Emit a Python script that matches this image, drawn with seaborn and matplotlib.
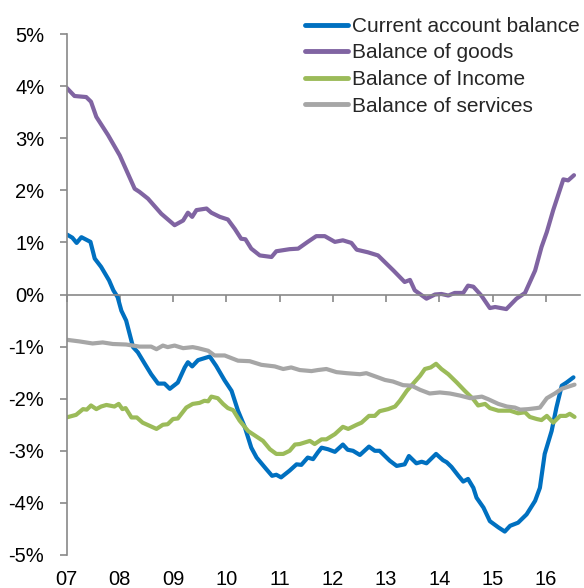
"""
plot.py -- balance of payments components, % of GDP, 2007-2016.
"""

import matplotlib
matplotlib.use("Agg")
import matplotlib.pyplot as plt
from matplotlib.ticker import FuncFormatter
import numpy as np
import pandas as pd
import seaborn as sns

# -- Data (x in fractional years) ----------------------------------------------

SERIES = ["Current account balance", "Balance of goods", "Balance of Income", "Balance of services"]
COLORS = ["#0070C0", "#8064A2", "#9BBB59", "#A6A6A6"]

current_t = [2007.01, 2007.11, 2007.19, 2007.28, 2007.45, 2007.53, 2007.65, 2007.80, 2007.88, 2007.96,
             2008.03, 2008.12, 2008.25, 2008.34, 2008.47, 2008.59, 2008.72, 2008.84, 2008.94, 2009.09,
             2009.22, 2009.28, 2009.36, 2009.47, 2009.69, 2009.81, 2009.97, 2010.10, 2010.22, 2010.35,
             2010.47, 2010.57, 2010.75, 2010.86, 2010.94, 2011.03, 2011.19, 2011.32, 2011.41, 2011.53,
             2011.63, 2011.72, 2011.79, 2011.91, 2012.04, 2012.19, 2012.28, 2012.38, 2012.51, 2012.68,
             2012.79, 2012.88, 2013.07, 2013.20, 2013.35, 2013.43, 2013.57, 2013.67, 2013.76, 2013.94,
             2014.07, 2014.14, 2014.23, 2014.36, 2014.45, 2014.54, 2014.64, 2014.70, 2014.83, 2014.95,
             2015.11, 2015.23, 2015.33, 2015.48, 2015.64, 2015.80, 2015.89, 2015.98, 2016.11, 2016.20,
             2016.30, 2016.39, 2016.52]
current_v = [1.15, 1.09, 0.99, 1.10, 1.01, 0.69, 0.53, 0.27, 0.08, -0.05,
             -0.31, -0.50, -1.01, -1.11, -1.33, -1.53, -1.71, -1.71, -1.81, -1.69,
             -1.40, -1.30, -1.38, -1.26, -1.19, -1.37, -1.65, -1.85, -2.23, -2.55,
             -2.94, -3.13, -3.35, -3.48, -3.46, -3.51, -3.38, -3.26, -3.27, -3.13,
             -3.16, -3.03, -2.94, -2.97, -3.02, -2.88, -2.98, -3.00, -3.08, -2.92,
             -3.00, -3.00, -3.19, -3.29, -3.26, -3.10, -3.24, -3.21, -3.24, -3.06,
             -3.18, -3.22, -3.31, -3.48, -3.59, -3.54, -3.71, -3.90, -4.09, -4.35,
             -4.47, -4.55, -4.44, -4.38, -4.22, -3.96, -3.71, -3.06, -2.62, -2.17,
             -1.75, -1.69, -1.59]

goods_t = [2007.00, 2007.15, 2007.37, 2007.46, 2007.56, 2007.78, 2008.00, 2008.28, 2008.37, 2008.53,
           2008.78, 2009.03, 2009.19, 2009.28, 2009.36, 2009.44, 2009.63, 2009.72, 2009.88, 2010.03,
           2010.16, 2010.28, 2010.36, 2010.47, 2010.63, 2010.85, 2010.94, 2011.19, 2011.35, 2011.53,
           2011.69, 2011.85, 2012.04, 2012.19, 2012.35, 2012.45, 2012.66, 2012.85, 2012.98, 2013.14,
           2013.35, 2013.45, 2013.54, 2013.76, 2013.92, 2014.04, 2014.17, 2014.29, 2014.45, 2014.54,
           2014.64, 2014.79, 2014.95, 2015.05, 2015.26, 2015.45, 2015.61, 2015.80, 2015.92, 2016.02,
           2016.14, 2016.33, 2016.42, 2016.53]
goods_v = [3.97, 3.81, 3.79, 3.70, 3.41, 3.06, 2.67, 2.03, 1.97, 1.84,
           1.55, 1.33, 1.42, 1.57, 1.49, 1.62, 1.65, 1.57, 1.49, 1.44,
           1.26, 1.07, 1.06, 0.88, 0.75, 0.72, 0.83, 0.87, 0.88, 1.01,
           1.12, 1.12, 1.01, 1.04, 0.99, 0.86, 0.81, 0.75, 0.62, 0.46,
           0.24, 0.28, 0.08, -0.08, 0.00, 0.01, -0.02, 0.03, 0.03, 0.17,
           0.15, -0.02, -0.26, -0.24, -0.28, -0.08, 0.03, 0.46, 0.91, 1.20,
           1.62, 2.21, 2.19, 2.29]

income_t = [2007.00, 2007.18, 2007.31, 2007.38, 2007.46, 2007.56, 2007.65, 2007.75, 2007.90, 2007.98,
            2008.05, 2008.11, 2008.22, 2008.32, 2008.43, 2008.56, 2008.69, 2008.81, 2008.90, 2009.00,
            2009.09, 2009.25, 2009.37, 2009.50, 2009.59, 2009.66, 2009.72, 2009.84, 2009.94, 2010.03,
            2010.13, 2010.25, 2010.41, 2010.69, 2010.82, 2010.94, 2011.07, 2011.19, 2011.29, 2011.38,
            2011.57, 2011.66, 2011.79, 2011.88, 2012.04, 2012.19, 2012.29, 2012.45, 2012.54, 2012.68,
            2012.79, 2012.88, 2013.04, 2013.17, 2013.26, 2013.39, 2013.51, 2013.64, 2013.73, 2013.84,
            2013.94, 2014.04, 2014.17, 2014.33, 2014.48, 2014.64, 2014.73, 2014.86, 2014.95, 2015.11,
            2015.33, 2015.48, 2015.61, 2015.70, 2015.83, 2015.92, 2016.02, 2016.14, 2016.27, 2016.38,
            2016.45, 2016.54]
income_v = [-2.36, -2.31, -2.20, -2.21, -2.13, -2.20, -2.15, -2.12, -2.15, -2.10,
            -2.20, -2.18, -2.36, -2.36, -2.46, -2.52, -2.58, -2.50, -2.49, -2.39,
            -2.38, -2.17, -2.10, -2.08, -2.04, -2.05, -1.96, -1.99, -2.10, -2.18,
            -2.22, -2.42, -2.62, -2.81, -2.97, -3.06, -3.06, -3.00, -2.88, -2.87,
            -2.81, -2.87, -2.78, -2.78, -2.68, -2.54, -2.58, -2.50, -2.46, -2.33,
            -2.33, -2.24, -2.20, -2.15, -2.04, -1.85, -1.71, -1.56, -1.43, -1.40,
            -1.33, -1.43, -1.53, -1.69, -1.85, -2.01, -2.13, -2.10, -2.18, -2.23,
            -2.23, -2.28, -2.26, -2.35, -2.39, -2.41, -2.33, -2.46, -2.33, -2.33,
            -2.29, -2.35]

services_t = [2007.01, 2007.24, 2007.49, 2007.68, 2007.87, 2008.12, 2008.37, 2008.59, 2008.69, 2008.81,
              2008.90, 2009.03, 2009.19, 2009.37, 2009.47, 2009.66, 2009.78, 2009.97, 2010.22, 2010.44,
              2010.66, 2010.91, 2011.07, 2011.22, 2011.38, 2011.60, 2011.72, 2011.88, 2012.07, 2012.26,
              2012.51, 2012.63, 2012.82, 2012.98, 2013.13, 2013.32, 2013.48, 2013.64, 2013.82, 2014.01,
              2014.20, 2014.39, 2014.58, 2014.80, 2014.92, 2015.11, 2015.27, 2015.42, 2015.52, 2015.67,
              2015.83, 2015.89, 2016.02, 2016.17, 2016.30, 2016.42, 2016.54]
services_v = [-0.87, -0.90, -0.94, -0.92, -0.95, -0.96, -1.00, -1.00, -1.05, -0.98,
              -1.01, -0.98, -1.03, -1.01, -1.03, -1.08, -1.17, -1.17, -1.27, -1.28,
              -1.35, -1.38, -1.43, -1.40, -1.45, -1.47, -1.45, -1.43, -1.49, -1.51,
              -1.53, -1.51, -1.58, -1.64, -1.67, -1.74, -1.75, -1.83, -1.90, -1.88,
              -1.90, -1.94, -1.99, -1.96, -2.01, -2.10, -2.15, -2.17, -2.21, -2.20,
              -2.18, -2.17, -1.99, -1.90, -1.81, -1.77, -1.73]

YEARS = list(range(2007, 2017))
YEAR_LABELS = [f"{y % 100:02d}" for y in YEARS]
Y_TICKS = list(range(-5, 6))


def build_frame() -> pd.DataFrame:
    parts = []
    for name, t, v in zip(SERIES,
                          [current_t, goods_t, income_t, services_t],
                          [current_v, goods_v, income_v, services_v]):
        parts.append(pd.DataFrame({"t": t, "value": v, "series": name}))
    return pd.concat(parts, ignore_index=True)


# -- Plot ----------------------------------------------------------------------

def main() -> None:
    sns.set_theme(style="white")
    plt.rcParams["font.family"] = ["Liberation Sans", "DejaVu Sans"]
    axis_grey = "#898989"
    fs_tick = 14.5
    fs_leg = 15

    df = build_frame()

    fig = plt.figure(figsize=(5.84, 5.88), dpi=100)
    ax = fig.add_axes([66.5 / 584, 1 - 555 / 588, (580 - 66.5) / 584, (555 - 34) / 588])

    sns.lineplot(data=df, x="t", y="value", hue="series", hue_order=SERIES,
                 palette=COLORS, estimator=None, sort=False, lw=3.0, ax=ax)

    ax.set_xlim(2007, 2007 + (580 - 67) / 53.2)
    ax.set_ylim(-5, 5)
    ax.set_xlabel("")
    ax.set_ylabel("")

    # y axis
    ax.set_yticks(Y_TICKS)
    ax.yaxis.set_major_formatter(FuncFormatter(lambda v, _: f"{v:.0f}%"))
    ax.tick_params(axis="y", left=True, direction="out", length=5, width=1.2,
                   color=axis_grey, labelsize=fs_tick, labelcolor="black", pad=11)

    # x axis drawn through zero, labels kept at the bottom
    for side in ("top", "right"):
        ax.spines[side].set_visible(False)
    ax.spines["left"].set_color(axis_grey)
    ax.spines["left"].set_linewidth(1.2)
    ax.spines["bottom"].set_position(("data", 0))
    ax.spines["bottom"].set_color(axis_grey)
    ax.spines["bottom"].set_linewidth(1.2)
    ax.set_xticks(YEARS)
    ax.tick_params(axis="x", bottom=True, direction="out", length=5, width=1.2,
                   color=axis_grey, labelbottom=False)

    sec = ax.secondary_xaxis(0)
    sec.set_xticks(YEARS, labels=YEAR_LABELS)
    sec.tick_params(length=0, labelsize=fs_tick, labelcolor="black", pad=11)
    sec.spines["bottom"].set_visible(False)

    handles, labels = ax.get_legend_handles_labels()
    leg = ax.legend(handles, labels, loc="upper left",
                    bbox_to_anchor=(305 / 584, 1 - 17 / 588), bbox_transform=fig.transFigure,
                    frameon=False, fontsize=fs_leg, handlelength=2.05, handletextpad=0.2,
                    labelspacing=0.36, borderpad=0, borderaxespad=0)
    for line in leg.get_lines():
        line.set_linewidth(3.5)

    fig.savefig("out.png", dpi=100)


if __name__ == "__main__":
    main()
